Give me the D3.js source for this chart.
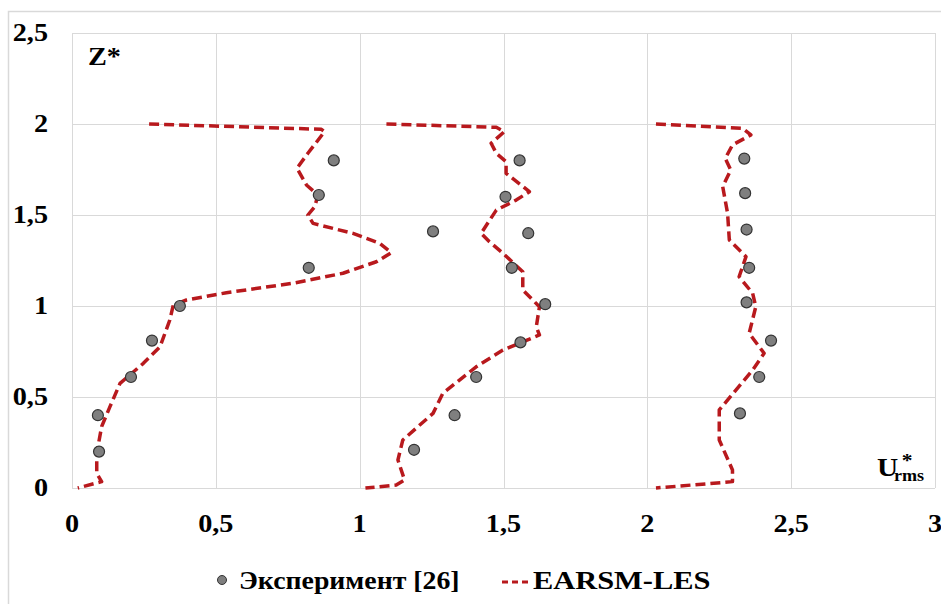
<!DOCTYPE html>
<html>
<head>
<meta charset="utf-8">
<script src="https://cdn.jsdelivr.net/npm/d3@7"></script>
<style>
  body { margin: 0; background: #fff; }
  text { font-family: "Liberation Serif", "Times New Roman", serif; font-weight: bold; fill: #000; }
</style>
</head>
<body>
<div id="chart"></div>
<script>
// experiment points, three profiles [U*rms, Z*]
var expX = [0.91, 0.858, 0.823, 0.375, 0.278, 0.205, 0.09, 0.094,
            1.556, 1.507, 1.255, 1.586, 1.529, 1.645, 1.559, 1.405, 1.33, 1.189,
            2.337, 2.34, 2.345, 2.354, 2.345, 2.43, 2.389, 2.322];
var expZ = [1.8, 1.61, 1.21, 1.0, 0.81, 0.61, 0.4, 0.2,
            1.8, 1.6, 1.41, 1.4, 1.21, 1.01, 0.8, 0.61, 0.4, 0.21,
            1.81, 1.62, 1.42, 1.21, 1.02, 0.81, 0.61, 0.41];

// EARSM-LES profiles
var les1X = [0.268, 0.867, 0.878, 0.82, 0.782, 0.815, 0.855, 0.844, 0.82, 0.838, 0.977, 1.069, 1.11, 1.058, 0.942, 0.768, 0.537, 0.398, 0.352, 0.34, 0.306, 0.248, 0.167, 0.132, 0.103, 0.086, 0.086, 0.103, 0.02];
var les1Z = [2.0, 1.971, 1.958, 1.839, 1.757, 1.665, 1.61, 1.546, 1.5, 1.454, 1.399, 1.345, 1.293, 1.243, 1.18, 1.125, 1.073, 1.033, 1.005, 0.923, 0.776, 0.685, 0.575, 0.447, 0.337, 0.19, 0.08, 0.035, 0.0];
var les2X = [1.093, 1.475, 1.503, 1.457, 1.475, 1.509, 1.509, 1.59, 1.544, 1.475, 1.422, 1.451, 1.498, 1.567, 1.567, 1.625, 1.614, 1.625, 1.498, 1.405, 1.289, 1.255, 1.15, 1.133, 1.156, 1.127, 1.02];
var les2Z = [2.0, 1.982, 1.958, 1.894, 1.839, 1.793, 1.729, 1.628, 1.582, 1.527, 1.399, 1.353, 1.29, 1.188, 1.088, 0.996, 0.886, 0.841, 0.758, 0.666, 0.52, 0.41, 0.264, 0.154, 0.044, 0.016, 0.0];
var les3X = [2.03, 2.331, 2.36, 2.296, 2.271, 2.29, 2.262, 2.279, 2.285, 2.343, 2.319, 2.366, 2.377, 2.354, 2.406, 2.366, 2.25, 2.25, 2.296, 2.296, 2.03];
var les3Z = [2.0, 1.976, 1.94, 1.885, 1.811, 1.747, 1.656, 1.509, 1.363, 1.271, 1.161, 1.07, 0.996, 0.85, 0.74, 0.648, 0.429, 0.264, 0.099, 0.035, 0.0];

var xTicks = [0, 0.5, 1, 1.5, 2, 2.5, 3];
var yTicks = [0, 0.5, 1, 1.5, 2, 2.5];
var legendNames = ["Эксперимент [26]", "EARSM-LES"];

var W = 941, H = 604;
var lineColor = "#b8191d";
var svg = d3.select("#chart").append("svg").attr("width", W).attr("height", H);
svg.append("rect").attr("width", W).attr("height", H).attr("fill", "#fff");

// outer chart frame (runs past right and bottom edges)
svg.append("rect").attr("x", 8.5).attr("y", 11.5).attr("width", 1000).attr("height", 700)
  .attr("fill", "none").attr("stroke", "#d9d9d9").attr("stroke-width", 1.5);

var x = d3.scaleLinear().domain([0, 3]).range([72, 935]);
var y = d3.scaleLinear().domain([0, 2.5]).range([488, 33]);

var fmt = function(v) { return String(v).replace(".", ","); };

// grid
svg.append("g").selectAll("line").data(xTicks).enter().append("line")
  .attr("x1", function(d) { return Math.round(x(d)) + 0.5; })
  .attr("x2", function(d) { return Math.round(x(d)) + 0.5; })
  .attr("y1", y(0)).attr("y2", y(2.5))
  .attr("stroke", "#d9d9d9").attr("stroke-width", 1);
svg.append("g").selectAll("line").data(yTicks).enter().append("line")
  .attr("y1", function(d) { return Math.round(y(d)) + 0.5; })
  .attr("y2", function(d) { return Math.round(y(d)) + 0.5; })
  .attr("x1", x(0)).attr("x2", x(3))
  .attr("stroke", "#d9d9d9").attr("stroke-width", 1);

// text with the slight horizontal stretch of the original
function stretched(g, tx, ty, str, size, anchor, sx) {
  return g.append("text")
    .attr("transform", "translate(" + tx + "," + ty + ") scale(" + (sx || 1.13) + ",1)")
    .attr("text-anchor", anchor)
    .style("font-size", size + "px")
    .text(str);
}
xTicks.forEach(function(d) { stretched(svg, x(d), 532, fmt(d), 25, "middle"); });
yTicks.forEach(function(d) { stretched(svg, 48, y(d) + 8, fmt(d), 25, "end"); });

// axis titles
stretched(svg, 88, 65, "Z*", 25, "start");
var ut = stretched(svg, 877, 476, "", 26, "start");
ut.append("tspan").text("U");
ut.append("tspan").attr("x", 15).attr("dy", 5).style("font-size", "16px").text("rms");
ut.append("tspan").attr("x", 22).attr("dy", -14).style("font-size", "19px").text("*");

// lines
var line = d3.line().x(function(d) { return x(d[0]); }).y(function(d) { return y(d[1]); });
[[les1X, les1Z], [les2X, les2Z], [les3X, les3Z]].forEach(function(p) {
  svg.append("path")
    .datum(d3.zip(p[0], p[1]))
    .attr("d", line)
    .attr("fill", "none")
    .attr("stroke", lineColor)
    .attr("stroke-width", 3.5)
    .attr("stroke-dasharray", "10,5")
    .attr("stroke-linejoin", "round");
});

// points
svg.append("g").selectAll("circle").data(d3.zip(expX, expZ)).enter().append("circle")
  .attr("cx", function(d) { return x(d[0]); })
  .attr("cy", function(d) { return y(d[1]); })
  .attr("r", 5.5)
  .attr("fill", "#7f7f7f")
  .attr("stroke", "#333")
  .attr("stroke-width", 1.2);

// legend
svg.append("circle").attr("cx", 222).attr("cy", 580).attr("r", 4.5)
  .attr("fill", "#7f7f7f").attr("stroke", "#333");
stretched(svg, 239, 589, legendNames[0], 26, "start", 1.07);
svg.append("line").attr("x1", 502).attr("x2", 530).attr("y1", 582).attr("y2", 582)
  .attr("stroke", lineColor).attr("stroke-width", 3).attr("stroke-dasharray", "6,4");
stretched(svg, 533, 589, legendNames[1], 26, "start", 1.17);
</script>
</body>
</html>
